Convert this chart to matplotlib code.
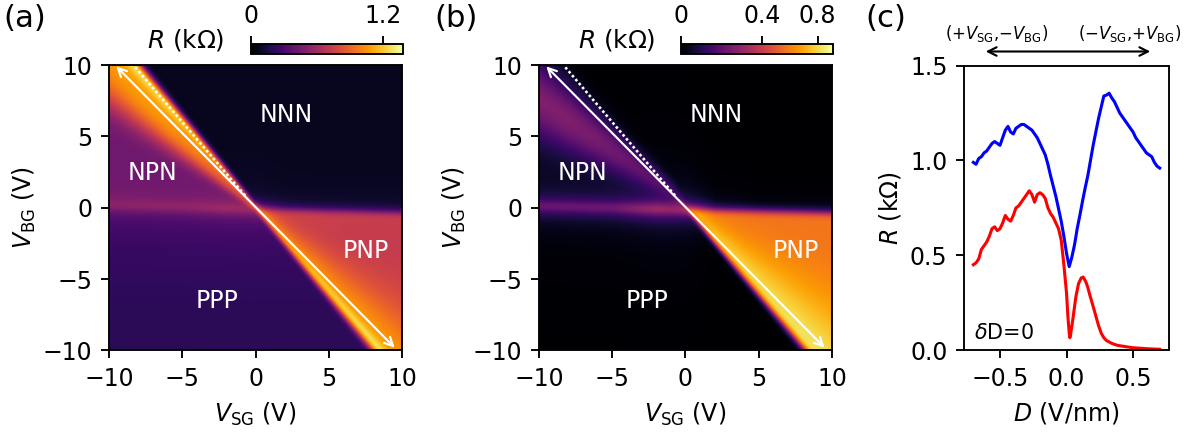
import numpy as np
import matplotlib
matplotlib.use("Agg")
import matplotlib.pyplot as plt
from matplotlib.colors import PowerNorm
from matplotlib.patches import FancyArrowPatch

# ---------------------------------------------------------------- data
# gate-voltage grid of the two resistance maps (V)
vsg = np.linspace(-10, 10, 401)
vbg = np.linspace(-10, 10, 401)

# middle-region neutrality line V_BG = -K_CNP * V_SG ; outer line V_BG = S0 + S1 * V_SG
K_CNP = 1.2
S0, S1 = -0.2, -0.025

# resistance deep inside each doping region (kOhm): NNN, NPN, PNP, PPP
level_a = [0.03, 0.30, 0.60, 0.11]
level_b = [0.00, 0.015, 0.56, 0.00]
ppp_edge_a = 0.09        # extra PPP resistance next to the outer neutrality line (map a)

# resistance fan above the region level, sampled along V_SG (kOhm)
fan_vsg = [-10, -8, -6, -4, -2, 0, 2, 4, 6, 8, 10]
fan_a = [0.74, 0.76, 0.74, 0.66, 0.50, 0.25, 0.35, 0.42, 0.45, 0.48, 0.48]
fan_b = [0.21, 0.21, 0.19, 0.16, 0.12, 0.05, 0.22, 0.25, 0.27, 0.28, 0.28]
# narrow peak right on the middle-region neutrality line (map a, kOhm)
line_a = [0.30, 0.30, 0.28, 0.25, 0.20, 0.10, 0.20, 0.28, 0.32, 0.35, 0.35]

# outer neutrality band height along V_SG (kOhm)
band_vsg = [-10, -5, -2, 0, 2, 5, 10]
band_a = [0.14, 0.15, 0.20, 0.20, 0.10, 0.08, 0.08]
band_b = [0.17, 0.18, 0.28, 0.25, 0.05, 0.02, 0.02]

# colour scales (kOhm)
vmax_a, vmax_b = 1.45, 0.92
ticks_a = [0, 1.2]
ticks_b = [0, 0.4, 0.8]

# line cut delta D = 0 and the neutrality guide (V)
cut_vsg = [-9.5, 9.5]
cut_vbg = [9.9, -9.8]
guide_vsg = np.array([-8.2, -0.6])

# region labels (V_SG, V_BG)
label_txt = ["NNN", "NPN", "PNP", "PPP"]
label_x = [2.1, -7.0, 7.5, -2.6]
label_y = [6.5, 2.4, -3.0, -6.5]

# resistance along the cut versus displacement field (V/nm, kOhm)
blue_D = [-0.70, -0.68, -0.66, -0.64, -0.62, -0.60, -0.58, -0.56, -0.54, -0.52,
          -0.50, -0.48, -0.46, -0.44, -0.42, -0.40, -0.38, -0.36, -0.34, -0.32,
          -0.30, -0.28, -0.26, -0.24, -0.22, -0.20, -0.18, -0.16, -0.14, -0.12,
          -0.10, -0.08, -0.06, -0.04, -0.02, 0.00, 0.02, 0.04, 0.06, 0.08,
          0.10, 0.12, 0.14, 0.16, 0.18, 0.20, 0.22, 0.24, 0.26, 0.28,
          0.30, 0.32, 0.34, 0.36, 0.38, 0.40, 0.42, 0.44, 0.46, 0.48,
          0.50, 0.52, 0.54, 0.56, 0.58, 0.60, 0.62, 0.64, 0.66, 0.68, 0.70]
blue_R = [0.99, 0.98, 1.01, 1.02, 1.04, 1.05, 1.07, 1.09, 1.10, 1.09,
          1.08, 1.12, 1.16, 1.18, 1.15, 1.14, 1.17, 1.18, 1.19, 1.19,
          1.18, 1.17, 1.16, 1.14, 1.12, 1.09, 1.06, 1.03, 0.98, 0.92,
          0.865, 0.81, 0.745, 0.68, 0.60, 0.51, 0.44, 0.49, 0.555, 0.64,
          0.71, 0.785, 0.855, 0.92, 1.00, 1.08, 1.15, 1.22, 1.28, 1.34,
          1.345, 1.355, 1.33, 1.31, 1.28, 1.25, 1.23, 1.21, 1.19, 1.17,
          1.15, 1.12, 1.10, 1.08, 1.06, 1.04, 1.03, 1.02, 0.99, 0.97, 0.96]

red_D = [-0.70, -0.68, -0.66, -0.64, -0.62, -0.60, -0.58, -0.56, -0.54, -0.52,
         -0.50, -0.48, -0.46, -0.44, -0.42, -0.40, -0.38, -0.36, -0.34, -0.32,
         -0.30, -0.28, -0.26, -0.24, -0.22, -0.20, -0.18, -0.16, -0.14, -0.12,
         -0.10, -0.08, -0.06, -0.04, -0.02, 0.00, 0.01, 0.02, 0.025, 0.03,
         0.045, 0.07, 0.09, 0.11, 0.125, 0.145, 0.16, 0.175, 0.20, 0.22,
         0.24, 0.26, 0.28, 0.30, 0.34, 0.38, 0.45, 0.50, 0.60, 0.70]
red_R = [0.45, 0.46, 0.48, 0.53, 0.55, 0.57, 0.60, 0.64, 0.65, 0.63,
         0.64, 0.67, 0.71, 0.69, 0.68, 0.71, 0.75, 0.76, 0.78, 0.80,
         0.82, 0.84, 0.82, 0.78, 0.82, 0.83, 0.82, 0.80, 0.75, 0.72,
         0.70, 0.67, 0.64, 0.58, 0.45, 0.30, 0.18, 0.09, 0.065, 0.08,
         0.15, 0.28, 0.35, 0.38, 0.385, 0.36, 0.33, 0.29, 0.23, 0.18,
         0.13, 0.09, 0.065, 0.05, 0.035, 0.025, 0.017, 0.012, 0.007, 0.004]


# ---------------------------------------------------------------- maps
def step(x, w):
    return 0.5 * (1.0 + np.tanh(x / w))


VS, VB = np.meshgrid(vsg, vbg)
t = VB + K_CNP * VS            # middle region: >0 electron, <0 hole doped
s = VB - (S0 + S1 * VS)        # outer regions
n_mid = step(t, 0.3)
n_out = step(s, 0.3)
r = np.abs(VS)


def region_base(levels, ppp_edge=0.0):
    nnn, npn, pnp, ppp = levels
    ppp_map = ppp + ppp_edge * np.exp(np.minimum(s, 0) / 3.0)
    return (nnn * n_out * n_mid + npn * n_out * (1 - n_mid)
            + pnp * (1 - n_out) * n_mid + ppp_map * (1 - n_out) * (1 - n_mid))


def outer_band(amp):
    a = np.interp(VS, band_vsg, amp)
    return a / (1.0 + (s / 0.5) ** 2)


def map_a():
    R = region_base(level_a, ppp_edge_a) + outer_band(band_a)
    amp = np.interp(VS, fan_vsg, fan_a)
    bip = t * VS > 0                          # bipolar side of the line
    w_bip = np.where(VS < 0, 0.45 * r + 0.3, 0.42 * r + 0.4)
    pw = np.where(VS < 0, 4.0, 2.0)
    prof_bip = np.exp(-np.abs(t / w_bip) ** pw)
    prof_uni = np.exp(-(t / (0.3 + 0.04 * r)) ** 2)
    R += amp * np.where(bip, prof_bip, prof_uni)
    R += np.interp(VS, fan_vsg, line_a) * np.exp(-(t / (0.35 + 0.03 * r)) ** 2)
    return R


def map_b():
    R = region_base(level_b) + outer_band(band_b)
    amp = np.interp(VS, fan_vsg, fan_b)
    # upper-left: band displaced into the NPN side
    tc = -0.5 * np.maximum(r - 1.0, 0.0)
    w_ul = 0.5 + 0.2 * r
    ul = amp * np.exp(-((t - tc) / w_ul) ** 2) * (VS < 0)
    # lower-right: fan opening into the PNP side
    w_lr = 0.5 * r + 0.3
    prof_lr = np.where(t > 0, np.exp(-(t / w_lr) ** 2),
                       np.exp(-(t / (0.25 + 0.03 * r)) ** 2))
    lr = amp * prof_lr * (VS >= 0)
    return R + ul + lr


maps = [map_a(), map_b()]
vmaxes = [vmax_a, vmax_b]
cticks = [ticks_a, ticks_b]

# ---------------------------------------------------------------- figure
DPI = 170
fig = plt.figure(figsize=(1189 / DPI, 439 / DPI), dpi=DPI)

ax_pos = [[0.0917, 0.2016, 0.2464, 0.6503],
          [0.4533, 0.2016, 0.2464, 0.6503]]
cax_pos = [[0.2111, 0.8763, 0.1276, 0.0228],
           [0.5727, 0.8763, 0.1276, 0.0228]]
rlabel_x = [224 / 1189, 655 / 1189]
panel_x = [0.003, 0.365]
panel_txt = ["(a)", "(b)"]

for i in range(2):
    ax = fig.add_axes(ax_pos[i])
    norm = PowerNorm(gamma=0.75, vmin=0, vmax=vmaxes[i])
    im = ax.imshow(maps[i], origin="lower", extent=[-10, 10, -10, 10],
                   cmap="inferno", norm=norm, aspect="auto",
                   interpolation="bilinear")
    ax.set_xlim(-10, 10)
    ax.set_ylim(-10, 10)
    ax.set_xticks([-10, -5, 0, 5, 10])
    ax.set_yticks([-10, -5, 0, 5, 10])
    ax.set_xlabel(r"$V_{\rm SG}$ (V)")
    ax.set_ylabel(r"$V_{\rm BG}$ (V)", labelpad=2)

    ax.annotate("", xy=(cut_vsg[0], cut_vbg[0]), xytext=(cut_vsg[1], cut_vbg[1]),
                arrowprops=dict(arrowstyle="<->", color="white", lw=0.9,
                                shrinkA=0, shrinkB=0, mutation_scale=9))
    ax.plot(guide_vsg, -K_CNP * guide_vsg, color="white", ls=(0, (1, 1)), lw=1.1)
    for txt, x, y in zip(label_txt, label_x, label_y):
        ax.text(x, y, txt, color="white", ha="center", va="center", fontsize=10)

    cax = fig.add_axes(cax_pos[i])
    cb = fig.colorbar(im, cax=cax, orientation="horizontal", ticks=cticks[i])
    cax.xaxis.set_ticks_position("top")
    cax.xaxis.set_label_position("top")
    cb.ax.set_xticklabels([f"{v:g}" for v in cticks[i]])
    fig.text(rlabel_x[i], (439 - 40) / 439, r"$R$ (k$\Omega$)",
             ha="right", va="center", fontsize=10.5)
    fig.text(panel_x[i], 0.99, panel_txt[i], ha="left", va="top", fontsize=13)

# line cuts
axc = fig.add_axes([0.8108, 0.2027, 0.1724, 0.6476])
axc.plot(blue_D, blue_R, color="#0000ff", lw=1.3)
axc.plot(red_D, red_R, color="#ff0000", lw=1.3)
axc.set_xlim(-0.77, 0.77)
axc.set_ylim(0, 1.5)
axc.set_yticks([0.0, 0.5, 1.0, 1.5])
axc.set_xticks([-0.5, 0.0, 0.5])
axc.set_xlabel(r"$D$ (V/nm)")
axc.set_ylabel(r"$R$ (k$\Omega$)", labelpad=3)
axc.text(0.05, 0.025, r"$\delta$D=0", transform=axc.transAxes,
         ha="left", va="bottom", fontsize=8.8)

fig.text(0.728, 0.99, "(c)", ha="left", va="top", fontsize=13)
fig.text(997 / 1189, (439 - 33) / 439, r"(+$V_{\rm SG}$,$-V_{\rm BG}$)",
         ha="center", va="center", fontsize=7)
fig.text(1130 / 1189, (439 - 33) / 439, r"($-V_{\rm SG}$,+$V_{\rm BG}$)",
         ha="center", va="center", fontsize=7)
fig.patches.append(FancyArrowPatch(
    (981 / 1189, (439 - 51.5) / 439), (1155 / 1189, (439 - 51.5) / 439),
    transform=fig.transFigure, arrowstyle="<->", mutation_scale=9,
    color="black", lw=0.9))

fig.savefig("out.png", dpi=DPI)
